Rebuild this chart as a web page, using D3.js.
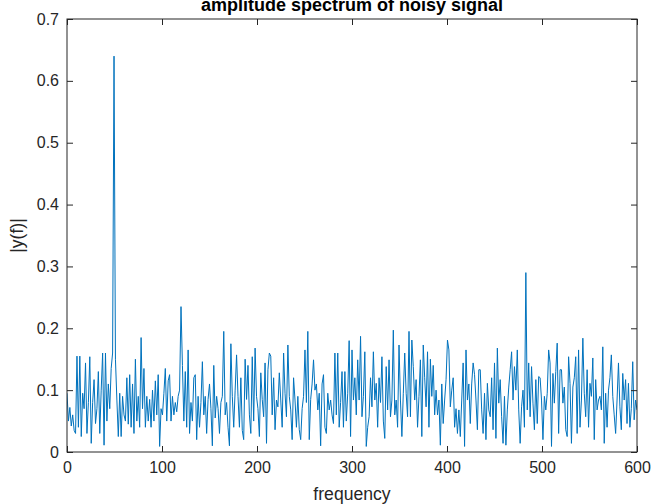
<!DOCTYPE html>
<html>
<head>
<meta charset="utf-8">
<script src="https://cdn.jsdelivr.net/npm/d3@7"></script>
<style>
  body { margin: 0; background: #fff; }
  svg { display: block; font-family: "Liberation Sans", Arial, sans-serif; }
</style>
</head>
<body>
<div id="chart"></div>
<script>
// spectrum data (frequency step 1.5)
var freqStep = 1.5;
var amplitude = [
  .095,.05,.072,.042,.06,.035,.03,.155,.04,.155,.025,.095,.07,.144,.03,.08,.154,.014,.08,.117,
  .046,.07,.13,.03,.10,.16,.011,.16,.05,.11,.07,.135,.16,.64,.15,.084,.025,.095,
  .025,.09,.06,.05,.12,.045,.125,.04,.11,.03,.15,.05,.09,.04,.185,.07,.135,.04,.09,.05,.085,.04,
  .10,.05,.115,.06,.125,.009,.07,.06,.095,.135,.05,.115,.125,.05,.09,.06,.08,.065,.09,.10,
  .235,.14,.05,.13,.04,.165,.03,.08,.05,.12,.125,.02,.09,.04,.08,.146,.06,.09,.03,.085,.11,.07,
  .01,.14,.055,.09,.07,.03,.08,.09,.195,.06,.08,.04,.01,.175,.09,.04,.10,.157,.09,.04,
  .12,.035,.02,.15,.085,.14,.06,.03,.154,.05,.168,.09,.07,.025,.128,.085,.057,.144,.014,.133,
  .16,.155,.06,.12,.036,.084,.073,.128,.084,.04,.16,.095,.057,.173,.09,.068,.02,.12,.084,.04,.09,.036,
  .02,.07,.09,.165,.08,.195,.02,.085,.11,.149,.10,.11,.068,.095,.01,.11,.125,.04,.03,.095,
  .068,.084,.06,.046,.16,.06,.16,.04,.08,.13,.04,.13,.05,.095,.18,.025,.165,.084,.12,.06,.149,.084,
  .187,.057,.09,.162,.009,.04,.057,.12,.073,.162,.084,.111,.04,.12,.08,.154,.05,.022,.138,.068,
  .149,.057,.084,.197,.06,.084,.04,.173,.084,.025,.095,.16,.095,.057,.195,.057,.181,.138,.084,.117,.04,.09,
  .149,.025,.173,.12,.073,.162,.04,.15,.09,.14,.06,.10,.06,.084,.011,.11,.046,.084,.117,.181,
  .165,.073,.10,.12,.04,.07,.03,.068,.025,.084,.144,.009,.165,.084,.11,.046,.11,.144,.125,.084,.036,.133,
  .133,.068,.03,.095,.02,.111,.068,.057,.12,.036,.144,.022,.168,.079,.117,.057,.014,.09,.011,.068,
  .105,.133,.162,.084,.138,.10,.165,.068,.014,.073,.10,.04,.29,.068,.144,.057,.138,.079,.036,.117,.046,.122,
  .12,.084,.02,.09,.068,.095,.165,.144,.009,.127,.079,.13,.176,.03,.133,.133,.079,.105,.036,.025,
  .154,.111,.014,.105,.12,.154,.03,.165,.04,.084,.184,.095,.057,.133,.04,.111,.09,.152,.02,.117,.068,.084,
  .09,.068,.17,.014,.095,.04,.10,.12,.157,.09,.06,.03,.084,.144,.073,.036,.127,.084,.117,.046,
  .111,.04,.07,.146,.052,.084,.068
];
var xTicks = [0, 100, 200, 300, 400, 500, 600];
var yTicks = [0, 0.1, 0.2, 0.3, 0.4, 0.5, 0.6, 0.7];
var yTickLabels = ["0", "0.1", "0.2", "0.3", "0.4", "0.5", "0.6", "0.7"];

var width = 654, height = 504;
var plotLeft = 67, plotRight = 637, plotTop = 19, plotBottom = 452;
var axisColor = "#262626";

var data = amplitude.map(function(v, i) { return { f: i * freqStep, a: v }; });

var x = d3.scaleLinear().domain([0, 600]).range([plotLeft, plotRight]);
var y = d3.scaleLinear().domain([0, 0.7]).range([plotBottom, plotTop]);

var svg = d3.select("#chart").append("svg")
    .attr("width", width)
    .attr("height", height);

svg.append("clipPath").attr("id", "plotclip")
  .append("rect")
    .attr("x", plotLeft).attr("y", plotTop)
    .attr("width", plotRight - plotLeft).attr("height", plotBottom - plotTop);

// the spectrum line
svg.append("path")
    .datum(data)
    .attr("clip-path", "url(#plotclip)")
    .attr("fill", "none")
    .attr("stroke", "#0072BD")
    .attr("stroke-width", 1)
    .attr("d", d3.line().x(function(d) { return x(d.f); }).y(function(d) { return y(d.a); }));

// axes, ticks pointing inwards on all four sides
function styleAxis(g) {
    g.select(".domain").remove();
    g.selectAll(".tick line").attr("stroke", axisColor).attr("stroke-width", 1);
    g.selectAll(".tick text").attr("fill", axisColor).style("font-size", "16px");
}

svg.append("g")
    .attr("transform", "translate(0," + plotBottom + ")")
    .call(d3.axisBottom(x).tickValues(xTicks).tickFormat(d3.format("d")).tickSizeInner(-6).tickSizeOuter(0).tickPadding(10))
    .call(styleAxis);

svg.append("g")
    .attr("transform", "translate(0," + plotTop + ")")
    .call(d3.axisTop(x).tickValues(xTicks).tickFormat("").tickSizeInner(-6).tickSizeOuter(0))
    .call(styleAxis);

svg.append("g")
    .attr("transform", "translate(" + plotLeft + ",0)")
    .call(d3.axisLeft(y).tickValues(yTicks).tickFormat(function(d, i) { return yTickLabels[i]; }).tickSizeInner(-6).tickSizeOuter(0).tickPadding(8))
    .call(styleAxis);

svg.append("g")
    .attr("transform", "translate(" + plotRight + ",0)")
    .call(d3.axisRight(y).tickValues(yTicks).tickFormat("").tickSizeInner(-6).tickSizeOuter(0))
    .call(styleAxis);

// box
svg.append("rect")
    .attr("x", plotLeft).attr("y", plotTop)
    .attr("width", plotRight - plotLeft).attr("height", plotBottom - plotTop)
    .attr("fill", "none")
    .attr("stroke", axisColor)
    .attr("stroke-width", 1);

// labels
svg.append("text")
    .attr("x", (plotLeft + plotRight) / 2)
    .attr("y", 11)
    .attr("text-anchor", "middle")
    .attr("fill", "#000")
    .style("font-size", "18px")
    .style("font-weight", "bold")
    .text("amplitude spectrum of noisy signal");

svg.append("text")
    .attr("x", (plotLeft + plotRight) / 2)
    .attr("y", 500)
    .attr("text-anchor", "middle")
    .attr("fill", axisColor)
    .style("font-size", "17.6px")
    .text("frequency");

svg.append("text")
    .attr("transform", "translate(23," + ((plotTop + plotBottom) / 2) + ") rotate(-90)")
    .attr("text-anchor", "middle")
    .attr("fill", axisColor)
    .style("font-size", "17.6px")
    .text("|y(f)|");
</script>
</body>
</html>
